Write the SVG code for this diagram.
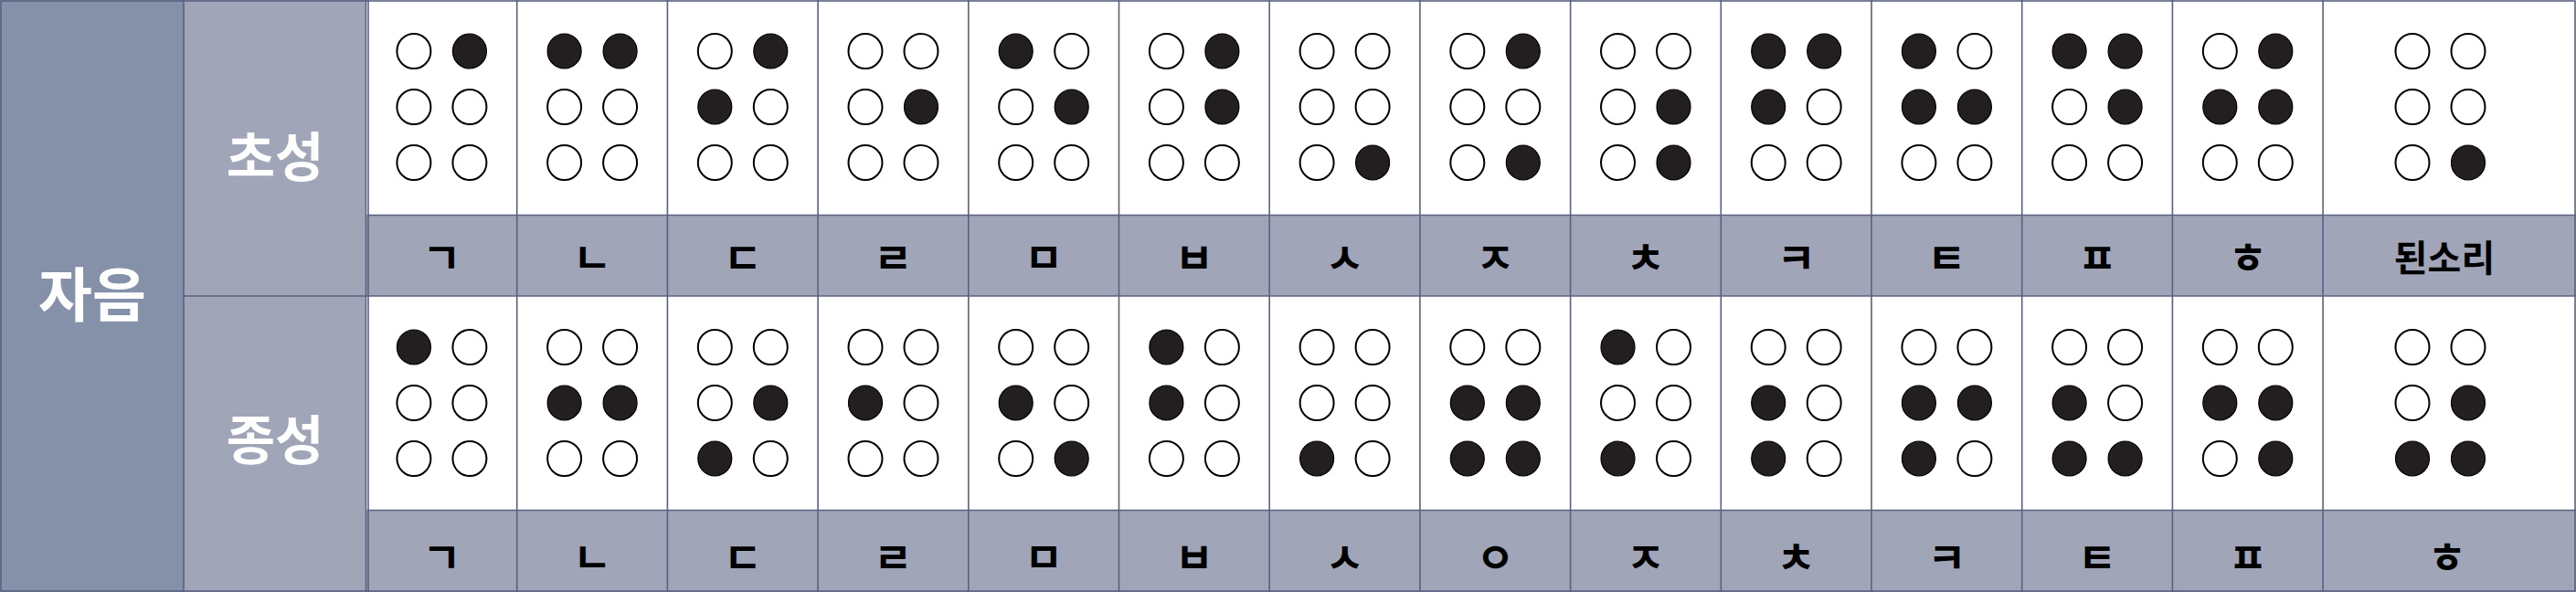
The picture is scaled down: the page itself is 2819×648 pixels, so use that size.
<svg xmlns="http://www.w3.org/2000/svg" width="2819" height="648" viewBox="0 0 2819 648">
<style>
.hd{fill:#8591a9}
.sub{fill:#a0a5b8}
.wh{fill:#ffffff}
.grid{stroke:#5b6080;stroke-width:1.6;fill:none}
.ht{font-family:"Noto Sans CJK KR","Noto Sans",sans-serif;fill:#ffffff;font-weight:700;text-anchor:middle;dominant-baseline:central}
.lt{font-family:"Noto Sans CJK KR","Noto Sans",sans-serif;fill:#000000;font-weight:700;font-size:46px;text-anchor:middle;dominant-baseline:central}
.lw{font-size:40px}
</style>
<defs>
<ellipse id="o" rx="18.5" ry="19" fill="#ffffff" stroke="#000000" stroke-width="2"/>
<ellipse id="f" rx="18.5" ry="19" fill="#231f20" stroke="#000000" stroke-width="1.2"/>
</defs>
<g id="background">
<rect class="hd" x="0" y="0" width="201" height="648"/>
<rect class="sub" x="201" y="0" width="200" height="648"/>
<rect class="wh" x="401" y="0" width="2418" height="235"/>
<rect class="sub" x="401" y="235" width="2418" height="89"/>
<rect class="wh" x="401" y="324" width="2418" height="234"/>
<rect class="sub" x="401" y="558" width="2418" height="90"/>
</g>
<g id="header-jaeum"><text class="ht" x="101" y="318" font-size="64">자음</text></g>
<g id="header-choseong"><text class="ht" x="301" y="168" font-size="58">초성</text></g>
<g id="header-jongseong"><text class="ht" x="301" y="478" font-size="58">종성</text></g>

<g id="cho-1"><g transform="translate(483.4,56)"><use href="#o" x="-30.5"/><use href="#o" x="-30.5" y="61"/><use href="#o" x="-30.5" y="122"/><use href="#f" x="30.5"/><use href="#o" x="30.5" y="61"/><use href="#o" x="30.5" y="122"/></g><text class="lt" x="483.4" y="279">ㄱ</text></g>
<g id="cho-2"><g transform="translate(648.1,56)"><use href="#f" x="-30.5"/><use href="#o" x="-30.5" y="61"/><use href="#o" x="-30.5" y="122"/><use href="#f" x="30.5"/><use href="#o" x="30.5" y="61"/><use href="#o" x="30.5" y="122"/></g><text class="lt" x="648.1" y="279">ㄴ</text></g>
<g id="cho-3"><g transform="translate(812.8,56)"><use href="#o" x="-30.5"/><use href="#f" x="-30.5" y="61"/><use href="#o" x="-30.5" y="122"/><use href="#f" x="30.5"/><use href="#o" x="30.5" y="61"/><use href="#o" x="30.5" y="122"/></g><text class="lt" x="812.8" y="279">ㄷ</text></g>
<g id="cho-4"><g transform="translate(977.5,56)"><use href="#o" x="-30.5"/><use href="#o" x="-30.5" y="61"/><use href="#o" x="-30.5" y="122"/><use href="#o" x="30.5"/><use href="#f" x="30.5" y="61"/><use href="#o" x="30.5" y="122"/></g><text class="lt" x="977.5" y="279">ㄹ</text></g>
<g id="cho-5"><g transform="translate(1142.2,56)"><use href="#f" x="-30.5"/><use href="#o" x="-30.5" y="61"/><use href="#o" x="-30.5" y="122"/><use href="#o" x="30.5"/><use href="#f" x="30.5" y="61"/><use href="#o" x="30.5" y="122"/></g><text class="lt" x="1142.2" y="279">ㅁ</text></g>
<g id="cho-6"><g transform="translate(1306.9,56)"><use href="#o" x="-30.5"/><use href="#o" x="-30.5" y="61"/><use href="#o" x="-30.5" y="122"/><use href="#f" x="30.5"/><use href="#f" x="30.5" y="61"/><use href="#o" x="30.5" y="122"/></g><text class="lt" x="1306.9" y="279">ㅂ</text></g>
<g id="cho-7"><g transform="translate(1471.6,56)"><use href="#o" x="-30.5"/><use href="#o" x="-30.5" y="61"/><use href="#o" x="-30.5" y="122"/><use href="#o" x="30.5"/><use href="#o" x="30.5" y="61"/><use href="#f" x="30.5" y="122"/></g><text class="lt" x="1471.6" y="279">ㅅ</text></g>
<g id="cho-8"><g transform="translate(1636.3,56)"><use href="#o" x="-30.5"/><use href="#o" x="-30.5" y="61"/><use href="#o" x="-30.5" y="122"/><use href="#f" x="30.5"/><use href="#o" x="30.5" y="61"/><use href="#f" x="30.5" y="122"/></g><text class="lt" x="1636.3" y="279">ㅈ</text></g>
<g id="cho-9"><g transform="translate(1801,56)"><use href="#o" x="-30.5"/><use href="#o" x="-30.5" y="61"/><use href="#o" x="-30.5" y="122"/><use href="#o" x="30.5"/><use href="#f" x="30.5" y="61"/><use href="#f" x="30.5" y="122"/></g><text class="lt" x="1801" y="279">ㅊ</text></g>
<g id="cho-10"><g transform="translate(1965.7,56)"><use href="#f" x="-30.5"/><use href="#f" x="-30.5" y="61"/><use href="#o" x="-30.5" y="122"/><use href="#f" x="30.5"/><use href="#o" x="30.5" y="61"/><use href="#o" x="30.5" y="122"/></g><text class="lt" x="1965.7" y="279">ㅋ</text></g>
<g id="cho-11"><g transform="translate(2130.4,56)"><use href="#f" x="-30.5"/><use href="#f" x="-30.5" y="61"/><use href="#o" x="-30.5" y="122"/><use href="#o" x="30.5"/><use href="#f" x="30.5" y="61"/><use href="#o" x="30.5" y="122"/></g><text class="lt" x="2130.4" y="279">ㅌ</text></g>
<g id="cho-12"><g transform="translate(2295.1,56)"><use href="#f" x="-30.5"/><use href="#o" x="-30.5" y="61"/><use href="#o" x="-30.5" y="122"/><use href="#f" x="30.5"/><use href="#f" x="30.5" y="61"/><use href="#o" x="30.5" y="122"/></g><text class="lt" x="2295.1" y="279">ㅍ</text></g>
<g id="cho-13"><g transform="translate(2459.8,56)"><use href="#o" x="-30.5"/><use href="#f" x="-30.5" y="61"/><use href="#o" x="-30.5" y="122"/><use href="#f" x="30.5"/><use href="#f" x="30.5" y="61"/><use href="#o" x="30.5" y="122"/></g><text class="lt" x="2459.8" y="279">ㅎ</text></g>
<g id="cho-14"><g transform="translate(2670.5,56)"><use href="#o" x="-30.5"/><use href="#o" x="-30.5" y="61"/><use href="#o" x="-30.5" y="122"/><use href="#o" x="30.5"/><use href="#o" x="30.5" y="61"/><use href="#f" x="30.5" y="122"/></g><text class="lt lw" x="2675" y="280">된소리</text></g>

<g id="jong-1"><g transform="translate(483.4,380)"><use href="#f" x="-30.5"/><use href="#o" x="-30.5" y="61"/><use href="#o" x="-30.5" y="122"/><use href="#o" x="30.5"/><use href="#o" x="30.5" y="61"/><use href="#o" x="30.5" y="122"/></g><text class="lt" x="483.4" y="607">ㄱ</text></g>
<g id="jong-2"><g transform="translate(648.1,380)"><use href="#o" x="-30.5"/><use href="#f" x="-30.5" y="61"/><use href="#o" x="-30.5" y="122"/><use href="#o" x="30.5"/><use href="#f" x="30.5" y="61"/><use href="#o" x="30.5" y="122"/></g><text class="lt" x="648.1" y="607">ㄴ</text></g>
<g id="jong-3"><g transform="translate(812.8,380)"><use href="#o" x="-30.5"/><use href="#o" x="-30.5" y="61"/><use href="#f" x="-30.5" y="122"/><use href="#o" x="30.5"/><use href="#f" x="30.5" y="61"/><use href="#o" x="30.5" y="122"/></g><text class="lt" x="812.8" y="607">ㄷ</text></g>
<g id="jong-4"><g transform="translate(977.5,380)"><use href="#o" x="-30.5"/><use href="#f" x="-30.5" y="61"/><use href="#o" x="-30.5" y="122"/><use href="#o" x="30.5"/><use href="#o" x="30.5" y="61"/><use href="#o" x="30.5" y="122"/></g><text class="lt" x="977.5" y="607">ㄹ</text></g>
<g id="jong-5"><g transform="translate(1142.2,380)"><use href="#o" x="-30.5"/><use href="#f" x="-30.5" y="61"/><use href="#o" x="-30.5" y="122"/><use href="#o" x="30.5"/><use href="#o" x="30.5" y="61"/><use href="#f" x="30.5" y="122"/></g><text class="lt" x="1142.2" y="607">ㅁ</text></g>
<g id="jong-6"><g transform="translate(1306.9,380)"><use href="#f" x="-30.5"/><use href="#f" x="-30.5" y="61"/><use href="#o" x="-30.5" y="122"/><use href="#o" x="30.5"/><use href="#o" x="30.5" y="61"/><use href="#o" x="30.5" y="122"/></g><text class="lt" x="1306.9" y="607">ㅂ</text></g>
<g id="jong-7"><g transform="translate(1471.6,380)"><use href="#o" x="-30.5"/><use href="#o" x="-30.5" y="61"/><use href="#f" x="-30.5" y="122"/><use href="#o" x="30.5"/><use href="#o" x="30.5" y="61"/><use href="#o" x="30.5" y="122"/></g><text class="lt" x="1471.6" y="607">ㅅ</text></g>
<g id="jong-8"><g transform="translate(1636.3,380)"><use href="#o" x="-30.5"/><use href="#f" x="-30.5" y="61"/><use href="#f" x="-30.5" y="122"/><use href="#o" x="30.5"/><use href="#f" x="30.5" y="61"/><use href="#f" x="30.5" y="122"/></g><text class="lt" x="1636.3" y="607">ㅇ</text></g>
<g id="jong-9"><g transform="translate(1801,380)"><use href="#f" x="-30.5"/><use href="#o" x="-30.5" y="61"/><use href="#f" x="-30.5" y="122"/><use href="#o" x="30.5"/><use href="#o" x="30.5" y="61"/><use href="#o" x="30.5" y="122"/></g><text class="lt" x="1801" y="607">ㅈ</text></g>
<g id="jong-10"><g transform="translate(1965.7,380)"><use href="#o" x="-30.5"/><use href="#f" x="-30.5" y="61"/><use href="#f" x="-30.5" y="122"/><use href="#o" x="30.5"/><use href="#o" x="30.5" y="61"/><use href="#o" x="30.5" y="122"/></g><text class="lt" x="1965.7" y="607">ㅊ</text></g>
<g id="jong-11"><g transform="translate(2130.4,380)"><use href="#o" x="-30.5"/><use href="#f" x="-30.5" y="61"/><use href="#f" x="-30.5" y="122"/><use href="#o" x="30.5"/><use href="#f" x="30.5" y="61"/><use href="#o" x="30.5" y="122"/></g><text class="lt" x="2130.4" y="607">ㅋ</text></g>
<g id="jong-12"><g transform="translate(2295.1,380)"><use href="#o" x="-30.5"/><use href="#f" x="-30.5" y="61"/><use href="#f" x="-30.5" y="122"/><use href="#o" x="30.5"/><use href="#o" x="30.5" y="61"/><use href="#f" x="30.5" y="122"/></g><text class="lt" x="2295.1" y="607">ㅌ</text></g>
<g id="jong-13"><g transform="translate(2459.8,380)"><use href="#o" x="-30.5"/><use href="#f" x="-30.5" y="61"/><use href="#o" x="-30.5" y="122"/><use href="#o" x="30.5"/><use href="#f" x="30.5" y="61"/><use href="#f" x="30.5" y="122"/></g><text class="lt" x="2459.8" y="607">ㅍ</text></g>
<g id="jong-14"><g transform="translate(2670.5,380)"><use href="#o" x="-30.5"/><use href="#o" x="-30.5" y="61"/><use href="#f" x="-30.5" y="122"/><use href="#o" x="30.5"/><use href="#f" x="30.5" y="61"/><use href="#f" x="30.5" y="122"/></g><text class="lt" x="2678" y="607">ㅎ</text></g>

<g id="grid" class="grid">
<rect x="1" y="1" width="2817" height="646"/>
<line x1="201" y1="0" x2="201" y2="648"/>
<line x1="400.5" y1="0" x2="400.5" y2="648"/>
<line x1="403" y1="0" x2="403" y2="648"/>
<line x1="201" y1="324" x2="2819" y2="324"/>
<line x1="403" y1="235.5" x2="2819" y2="235.5"/>
<line x1="403" y1="558.5" x2="2819" y2="558.5"/>
<line x1="565.7" y1="0" x2="565.7" y2="648"/>
<line x1="730.4" y1="0" x2="730.4" y2="648"/>
<line x1="895.1" y1="0" x2="895.1" y2="648"/>
<line x1="1059.8" y1="0" x2="1059.8" y2="648"/>
<line x1="1224.5" y1="0" x2="1224.5" y2="648"/>
<line x1="1389.2" y1="0" x2="1389.2" y2="648"/>
<line x1="1553.9" y1="0" x2="1553.9" y2="648"/>
<line x1="1718.6" y1="0" x2="1718.6" y2="648"/>
<line x1="1883.3" y1="0" x2="1883.3" y2="648"/>
<line x1="2048" y1="0" x2="2048" y2="648"/>
<line x1="2212.7" y1="0" x2="2212.7" y2="648"/>
<line x1="2377.4" y1="0" x2="2377.4" y2="648"/>
<line x1="2542.1" y1="0" x2="2542.1" y2="648"/>
</g>
</svg>
